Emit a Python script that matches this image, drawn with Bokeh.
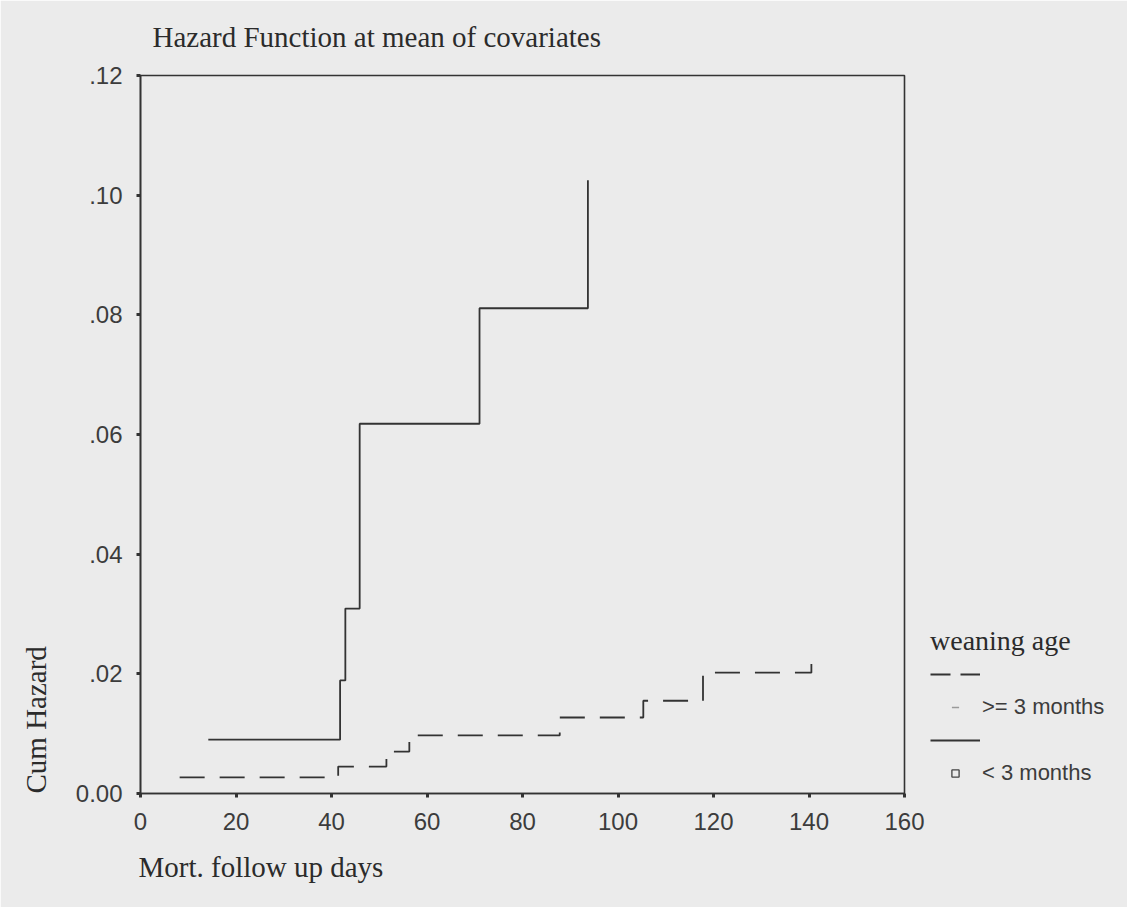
from bokeh.plotting import figure
from bokeh.models import (Range1d, FixedTicker, CustomJSTickFormatter, Legend,
                          LegendItem, Title)
from bokeh.embed import file_html
from bokeh.resources import INLINE

# ---------------- data ----------------
# weaning age < 3 months (solid)
lt3_days = [14.2, 41.8, 42.9, 45.9, 71.0, 93.7]
lt3_cumhaz = [0.0090, 0.0189, 0.0309, 0.0618, 0.0811, 0.1025]
# weaning age >= 3 months (dashed)
ge3_days = [8.2, 41.4, 51.5, 56.3, 87.8, 105.3, 117.8, 140.5]
ge3_cumhaz = [0.0027, 0.0045, 0.0070, 0.0097, 0.0127, 0.0155, 0.0202, 0.0241]

x_ticks = [0, 20, 40, 60, 80, 100, 120, 140, 160]
y_ticks = [0.0, 0.02, 0.04, 0.06, 0.08, 0.10, 0.12]

title_text = "Hazard Function at mean of covariates"
x_label_text = "Mort. follow up days"
y_label_text = "Cum Hazard"
legend_title_text = "weaning age"
ge3_label = ">= 3 months"
lt3_label = "< 3 months"

# ---------------- styling ----------------
BG = "#ebebeb"
INK = "#2b2b2b"
LINE = "#333333"
SERIF = "Liberation Serif"
SANS = "Liberation Sans"

p = figure(frame_width=764, frame_height=718, output_backend="svg",
           toolbar_location=None,
           x_range=Range1d(0, 160), y_range=Range1d(0, 0.12),
           min_border_left=140, min_border_right=207,
           min_border_top=75, min_border_bottom=114)

p.background_fill_color = BG
p.border_fill_color = BG
p.outline_line_color = LINE
p.outline_line_width = 1.6
p.grid.visible = False

# title
p.title.text = title_text
p.title.align = "left"
p.title.offset = 12
p.title.text_font = SERIF
p.title.text_font_size = "29px"
p.title.text_font_style = "normal"
p.title.text_color = INK
p.title.vertical_align = "top"
p.title.standoff = 41

for ax in (p.xaxis[0], p.yaxis[0]):
    ax.axis_line_color = LINE
    ax.axis_line_width = 1.6
    ax.major_tick_in = 0
    ax.major_tick_out = 4
    ax.major_tick_line_width = 3
    ax.major_tick_line_color = LINE
    ax.minor_tick_line_color = None
    ax.major_label_text_font = SANS
    ax.major_label_text_font_size = "24px"
    ax.major_label_text_color = "#3c3c3c"

xa = p.xaxis[0]
xa.ticker = FixedTicker(ticks=x_ticks)
xa.major_label_standoff = 15

ya = p.yaxis[0]
ya.ticker = FixedTicker(ticks=y_ticks)
ya.major_label_standoff = 14
ya.formatter = CustomJSTickFormatter(code="""
    if (Math.abs(tick) < 1e-9) { return "0.00"; }
    return tick.toFixed(2).replace(/^0/, "");
""")

# axis titles, anchored at the frame's start like the SPSS original
x_title = Title(text=x_label_text, align="left", offset=-2, vertical_align="bottom",
                standoff=32, text_font=SERIF, text_font_size="29px",
                text_font_style="normal", text_color=INK)
p.add_layout(x_title, "below")
y_title = Title(text=y_label_text, align="left", offset=0, vertical_align="top",
                standoff=38, text_font=SERIF, text_font_size="29px",
                text_font_style="normal", text_color=INK)
p.add_layout(y_title, "left")

# ---------------- curves ----------------
ge3 = p.step(ge3_days, ge3_cumhaz, mode="after", line_color=LINE, line_width=1.8,
             line_dash="25 15")
lt3 = p.step(lt3_days, lt3_cumhaz, mode="after", line_color=LINE, line_width=1.8)

# legend-only renderers (SPSS style: line sample on one row, marker + text below)
ge3_key = p.step(ge3_days, ge3_cumhaz, mode="after", line_color=LINE, line_width=1.8,
                 line_dash="20 10", visible=False)
ge3_mark = p.scatter(ge3_days, ge3_cumhaz, marker="dash", line_color="#9a9a9a",
                     line_width=1.5, visible=False)
lt3_mark = p.scatter(lt3_days, lt3_cumhaz, marker="square", fill_alpha=0,
                     line_color="#444444", line_width=1.3, visible=False)

legend = Legend(items=[
    LegendItem(label="", renderers=[ge3_key]),
    LegendItem(label=ge3_label, renderers=[ge3_mark]),
    LegendItem(label="", renderers=[lt3]),
    LegendItem(label=lt3_label, renderers=[lt3_mark]),
])
legend.title = legend_title_text
legend.title_text_font = SERIF
legend.title_text_font_size = "28px"
legend.title_text_font_style = "normal"
legend.title_text_color = INK
legend.title_standoff = 5
legend.label_text_font = SANS
legend.label_text_font_size = "22px"
legend.label_text_color = "#3c3c3c"
legend.glyph_width = 50
legend.glyph_height = 18
legend.label_height = 24
legend.label_standoff = 2
legend.spacing = 8
legend.padding = 0
legend.margin = 0
legend.border_line_color = None
legend.background_fill_alpha = 0
legend.inactive_fill_alpha = 0
legend.click_policy = "none"
legend.location = (26, 7)
p.add_layout(legend, "right")

open("out.html", "w").write(file_html(p, INLINE))
